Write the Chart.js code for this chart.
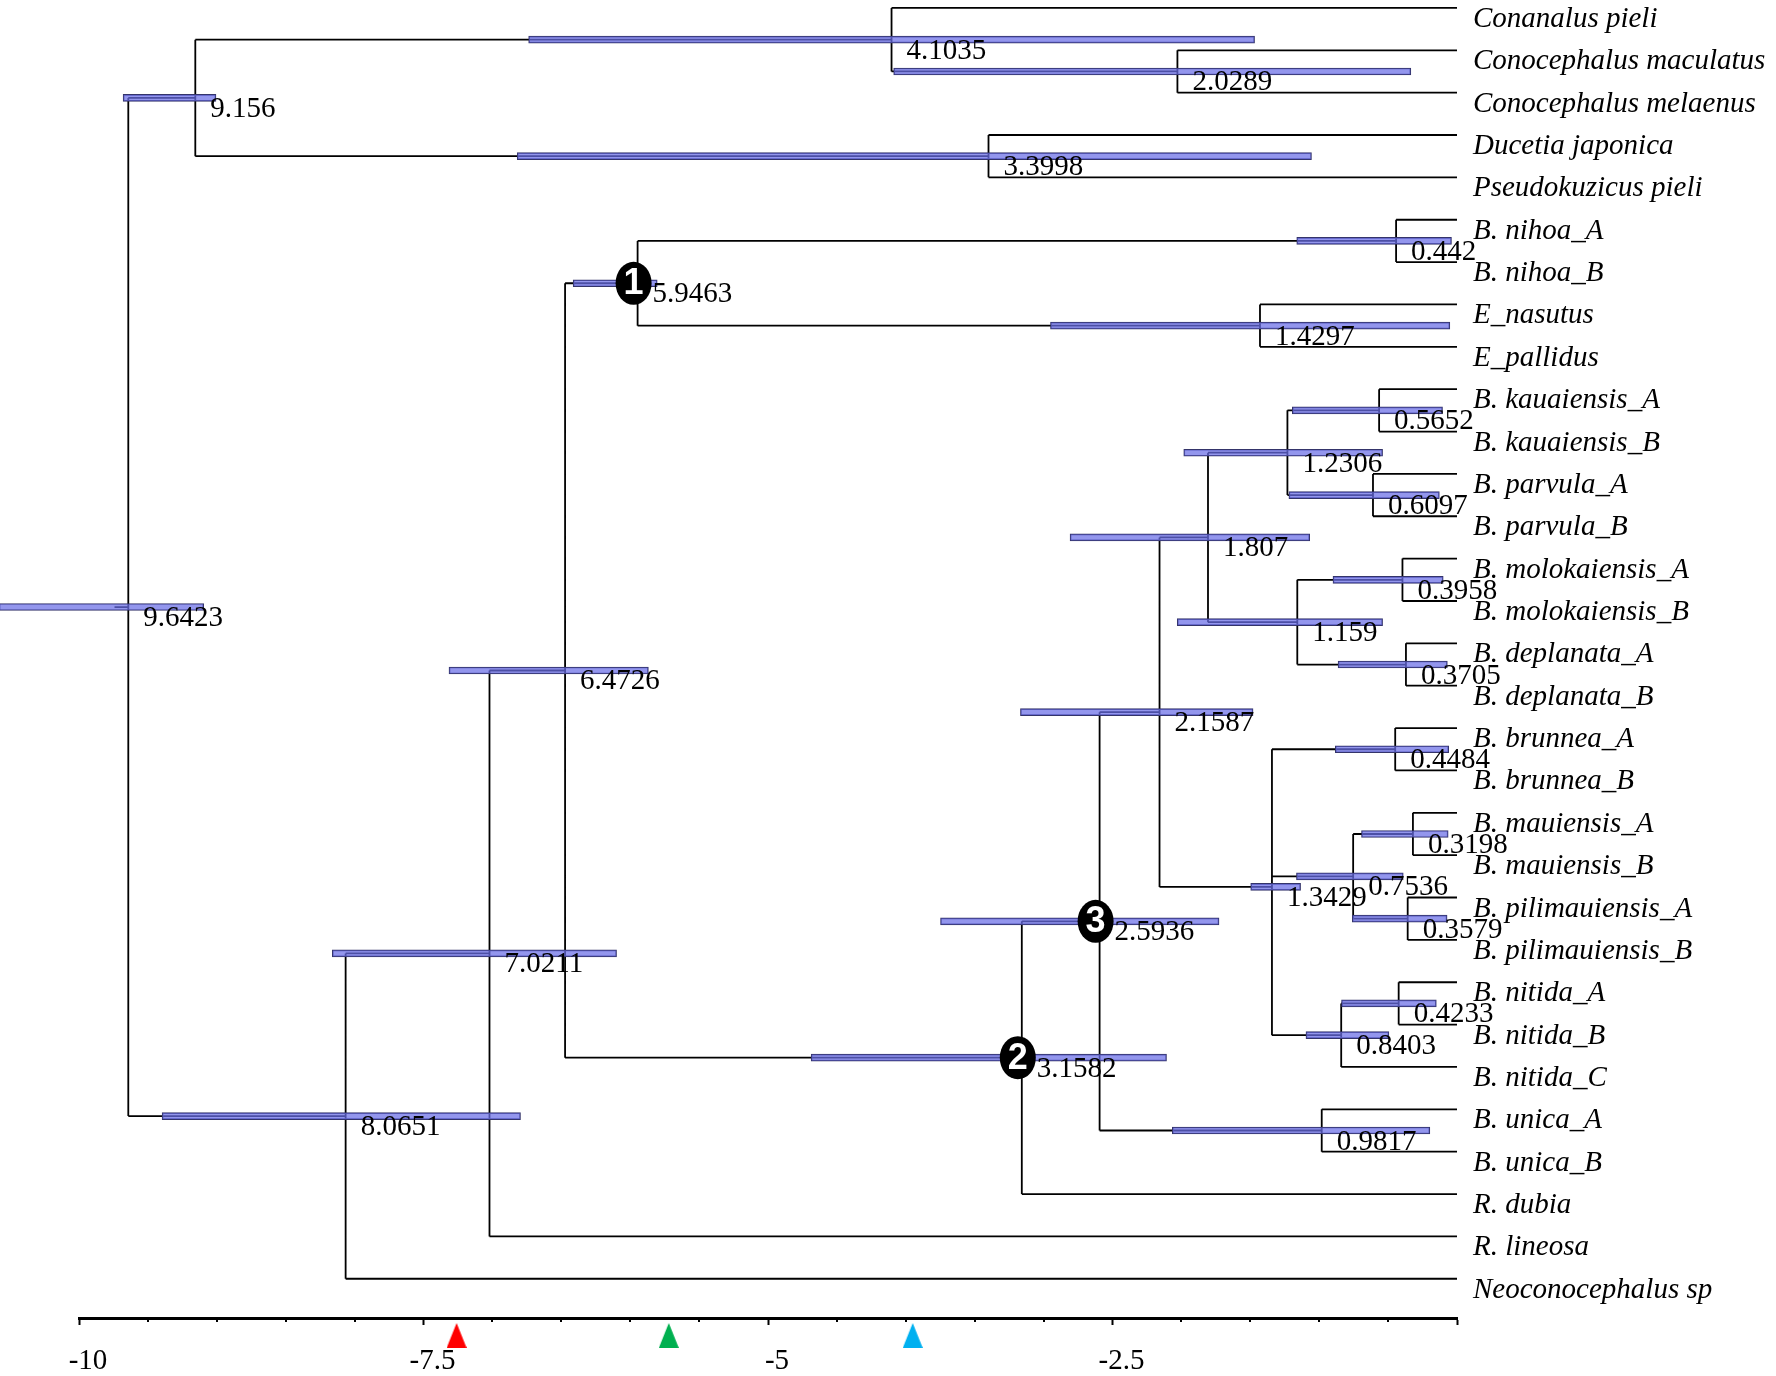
<!DOCTYPE html>
<html>
<head>
<meta charset="utf-8">
<script src="https://cdn.jsdelivr.net/npm/chart.js@4.4.1/dist/chart.umd.min.js"></script>
<style>
  html, body { margin: 0; padding: 0; background: #fff; }
  #wrap { width: 1776px; height: 1376px; }
</style>
</head>
<body>
<div id="wrap"><canvas id="tree" width="1776" height="1376"></canvas></div>
<script>
// tips, top to bottom (row index = position on the y scale)
const tipNames = [
  'Conanalus pieli', 'Conocephalus maculatus', 'Conocephalus melaenus', 'Ducetia japonica',
  'Pseudokuzicus pieli', 'B. nihoa_A', 'B. nihoa_B', 'E_nasutus', 'E_pallidus',
  'B. kauaiensis_A', 'B. kauaiensis_B', 'B. parvula_A', 'B. parvula_B',
  'B. molokaiensis_A', 'B. molokaiensis_B', 'B. deplanata_A', 'B. deplanata_B',
  'B. brunnea_A', 'B. brunnea_B', 'B. mauiensis_A', 'B. mauiensis_B',
  'B. pilimauiensis_A', 'B. pilimauiensis_B', 'B. nitida_A', 'B. nitida_B', 'B. nitida_C',
  'B. unica_A', 'B. unica_B', 'R. dubia', 'R. lineosa', 'Neoconocephalus sp'
];

// internal nodes: age (Ma before present) and children ('n#' = node, 't#' = tip)
const nodeAges = [9.6423, 9.156, 4.1035, 2.0289, 3.3998, 8.0651, 7.0211, 6.4726, 5.9463, 0.442,
  1.4297, 3.1582, 2.5936, 2.1587, 1.807, 1.2306, 0.5652, 0.6097, 1.159, 0.3958,
  0.3705, 1.3429, 0.4484, 0.7536, 0.3198, 0.3579, 0.8403, 0.4233, 0.9817];
const nodeChildren = [
  ['n1', 'n5'], ['n2', 'n4'], ['t0', 'n3'], ['t1', 't2'], ['t3', 't4'],
  ['n6', 't30'], ['n7', 't29'], ['n8', 'n11'], ['n9', 'n10'], ['t5', 't6'],
  ['t7', 't8'], ['n12', 't28'], ['n13', 'n28'], ['n14', 'n21'], ['n15', 'n18'],
  ['n16', 'n17'], ['t9', 't10'], ['t11', 't12'], ['n19', 'n20'], ['t13', 't14'],
  ['t15', 't16'], ['n22', 'n23', 'n26'], ['t17', 't18'], ['n24', 'n25'], ['t19', 't20'],
  ['t21', 't22'], ['n27', 't25'], ['t23', 't24'], ['t26', 't27']
];

// 95% HPD interval of each node (x axis units)
const hpdFrom = [-10.58, -9.68, -6.737, -4.088, -6.82, -9.397, -8.162, -7.315, -6.414, -1.163,
  -2.95, -4.687, -3.748, -3.168, -2.808, -1.983, -1.195, -1.22, -2.03, -0.9,
  -0.863, -1.497, -0.883, -1.165, -0.693, -0.76, -1.096, -0.838, -2.066];
const hpdTo = [-9.095, -9.006, -1.469, -0.335, -1.056, -6.796, -6.099, -5.868, -5.804, -0.04,
  -0.052, -2.108, -1.727, -1.48, -1.069, -0.54, -0.105, -0.128, -0.54, -0.1,
  -0.07, -1.135, -0.06, -0.39, -0.064, -0.072, -0.494, -0.15, -0.197];

// numbered calibration nodes
const calibNodes = [8, 11, 12];
const calibLabels = ['1', '2', '3'];

// event markers under the time axis
const eventAges = [-7.26, -5.72, -3.95];
const eventColors = ['#ff0000', '#00b050', '#00b0f0'];

// axis
const tickValues = [-10, -7.5, -5, -2.5];
const tickLabels = ['-10', '-7.5', '-5', '-2.5'];
const rootStem = 0.1;

const Y_MIN = -0.187, Y_MAX = 30.926;
const SERIF = '"Liberation Serif", "Times New Roman", serif';

// y of each node = mean of its children
const nodeY = [];
function yOf(ref) {
  const i = +ref.slice(1);
  if (ref[0] === 't') return i;
  if (nodeY[i] === undefined) {
    const ys = nodeChildren[i].map(yOf);
    nodeY[i] = ys.reduce((a, b) => a + b, 0) / ys.length;
  }
  return nodeY[i];
}
nodeAges.forEach((_, i) => yOf('n' + i));
const xOf = ref => ref[0] === 't' ? 0 : -nodeAges[+ref.slice(1)];

// branch segments, broken with null points
const branchPts = [];
const gap = () => ({ x: null, y: null });
nodeChildren.forEach((kids, i) => {
  const x = -nodeAges[i];
  const ys = kids.map(yOf);
  branchPts.push({ x, y: Math.min(...ys) }, { x, y: Math.max(...ys) }, gap());
  kids.forEach(k => branchPts.push({ x, y: yOf(k) }, { x: xOf(k), y: yOf(k) }, gap()));
});
branchPts.push({ x: -nodeAges[0] - rootStem, y: nodeY[0] }, { x: -nodeAges[0], y: nodeY[0] });

const hpdData = nodeAges.map((a, i) => ({ x: [hpdFrom[i], hpdTo[i]], y: nodeY[i] }));

function triangleImg(color) {
  const c = document.createElement('canvas');
  c.width = 20; c.height = 60;
  const g = c.getContext('2d');
  g.fillStyle = color;
  g.beginPath();
  g.moveTo(10, 35); g.lineTo(20, 60); g.lineTo(0, 60); g.closePath();
  g.fill();
  return c;
}

const treeText = {
  id: 'treeText',
  afterDatasetsDraw(chart) {
    const { ctx } = chart;
    const xs = chart.scales.x, ys = chart.scales.y;
    ctx.save();
    ctx.fillStyle = '#000';
    ctx.textAlign = 'left';
    ctx.textBaseline = 'alphabetic';
    ctx.font = '29px ' + SERIF;
    nodeAges.forEach((a, i) => {
      ctx.fillText(String(a), xs.getPixelForValue(-a) + 15, ys.getPixelForValue(nodeY[i]) + 19);
    });
    ctx.font = 'italic 29px ' + SERIF;
    tipNames.forEach((n, i) => {
      ctx.fillText(n, xs.getPixelForValue(0) + 16, ys.getPixelForValue(i) + 19);
    });
    calibNodes.forEach((n, k) => {
      const cx = xs.getPixelForValue(-nodeAges[n]) - 4;
      const cy = ys.getPixelForValue(nodeY[n]);
      ctx.fillStyle = '#000';
      ctx.beginPath();
      ctx.ellipse(cx, cy, 18, 21.5, 0, 0, Math.PI * 2);
      ctx.fill();
      ctx.fillStyle = '#fff';
      ctx.font = 'bold 36px "Liberation Sans", Arial, sans-serif';
      ctx.textAlign = 'center';
      ctx.textBaseline = 'middle';
      ctx.fillText(calibLabels[k], cx, cy + 1);
    });
    ctx.restore();
  },
  afterDraw(chart) {
    // short minor ticks every 0.5
    const { ctx } = chart;
    const xs = chart.scales.x;
    ctx.save();
    ctx.strokeStyle = '#000';
    ctx.lineWidth = 2;
    xs.ticks.forEach(t => {
      if (tickValues.includes(t.value) || t.value === 0) return;
      const px = Math.round(xs.getPixelForValue(t.value));
      ctx.beginPath();
      ctx.moveTo(px, xs.top);
      ctx.lineTo(px, xs.top + 4);
      ctx.stroke();
    });
    ctx.restore();
  }
};

new Chart(document.getElementById('tree'), {
  type: 'scatter',
  data: {
    datasets: [
      {
        type: 'line', data: branchPts, borderColor: '#000', borderWidth: 1.8,
        pointRadius: 0, spanGaps: false, tension: 0, fill: false, order: 3
      },
      {
        type: 'bar', indexAxis: 'y', data: hpdData, grouped: false,
        backgroundColor: 'rgba(105,110,230,0.72)', borderColor: '#34346a', borderWidth: 1,
        barThickness: 7, borderSkipped: false, clip: false, order: 2
      },
      {
        type: 'scatter', data: eventAges.map(a => ({ x: a, y: Y_MAX })),
        pointStyle: eventColors.map(triangleImg), pointRadius: 10, pointHoverRadius: 10,
        clip: false, order: 1
      }
    ]
  },
  options: {
    responsive: false,
    animation: false,
    devicePixelRatio: 1,
    layout: { autoPadding: false, padding: { left: 79, right: 319, top: 0, bottom: -22 } },
    plugins: { legend: { display: false }, tooltip: { enabled: false } },
    scales: {
      x: {
        type: 'linear', min: -10, max: 0, position: 'bottom', offset: false,
        border: { display: true, color: '#000', width: 3 },
        grid: {
          display: true, offset: false, drawOnChartArea: false, drawTicks: true, tickLength: 7, tickWidth: 2,
          tickColor: c => (tickValues.includes(c.tick.value) || c.tick.value === 0) ? '#000' : 'rgba(0,0,0,0)'
        },
        ticks: {
          stepSize: 0.5, autoSkip: false, maxRotation: 0, minRotation: 0,
          padding: 22, labelOffset: 9, color: '#000',
          font: { family: SERIF, size: 29, lineHeight: 1 },
          callback: v => { const k = tickValues.indexOf(v); return k < 0 ? '' : tickLabels[k]; }
        }
      },
      y: {
        type: 'linear', reverse: true, min: Y_MIN, max: Y_MAX, display: false,
        offset: false, grace: 0, grid: { offset: false }
      }
    }
  },
  plugins: [treeText]
});
</script>
</body>
</html>
